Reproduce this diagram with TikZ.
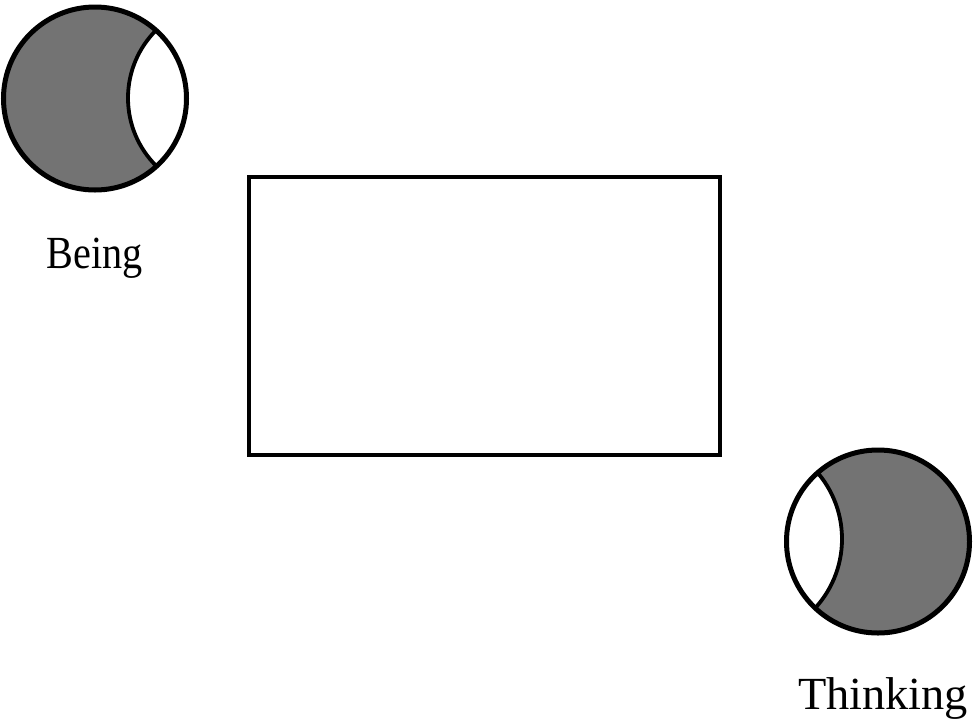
\documentclass[tikz,border=0pt]{standalone}
\usepackage{fontspec}
\setmainfont{Liberation Serif}
\begin{document}
\begin{tikzpicture}[x=1pt,y=-1pt,
  rim/.style={line width=5pt},
  lensline/.style={line width=3.8pt},
  shadefill/.style={fill=black!55},
  lbl/.style={font=\fontsize{46}{52}\selectfont, anchor=base, inner sep=0pt}]
\useasboundingbox (0,0) rectangle (974,721);
% top-left circle (Being)
\coordinate (c1) at (95,98.5);
\coordinate (l1) at (223.8,98);
\fill[shadefill] (c1) circle (91.5pt);
\begin{scope}
  \clip (c1) circle (91.5pt);
  \fill[white] (l1) circle (95.8pt);
  \draw[lensline] (l1) circle (95.8pt);
\end{scope}
\draw[rim] (c1) circle (91.5pt);
\node[lbl, xscale=0.874] (being) at (95,268) {Being};
% bottom-right circle (Thinking)
\coordinate (c2) at (878,541.5);
\coordinate (l2) at (739.7,539);
\fill[shadefill] (c2) circle (91.5pt);
\begin{scope}
  \clip (c2) circle (91.5pt);
  \fill[white] (l2) circle (102.3pt);
  \draw[lensline] (l2) circle (102.3pt);
\end{scope}
\draw[rim] (c2) circle (91.5pt);
\node[lbl, xscale=1.008] (thinking) at (883,709) {Thinking};
% central rectangle
\node[draw, line width=3.8pt, minimum width=471pt, minimum height=278pt, inner sep=0pt] (box) at (484.5,316) {};
\end{tikzpicture}
\end{document}
